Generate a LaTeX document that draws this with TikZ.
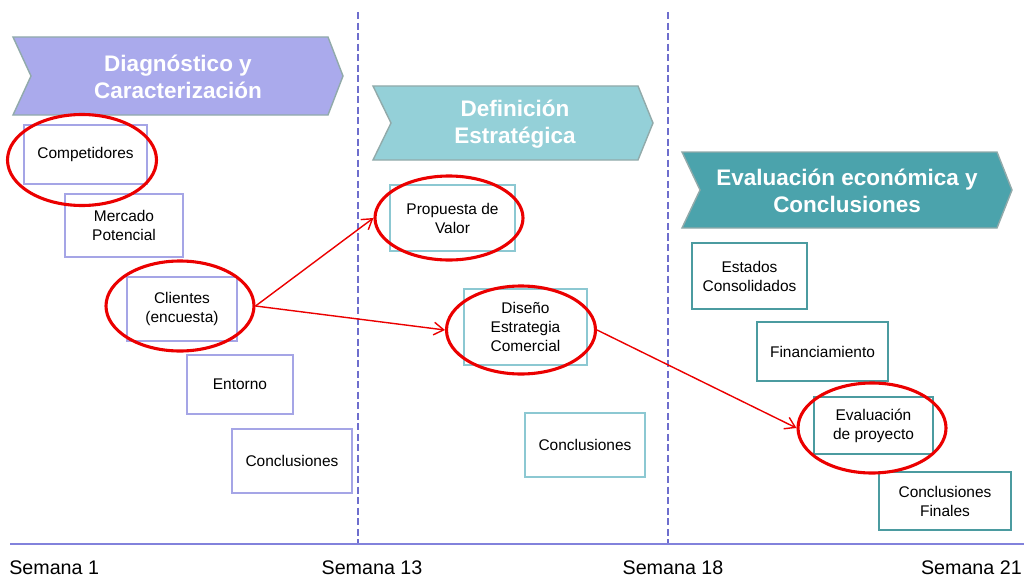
\documentclass[tikz,border=0pt]{standalone}
\usepackage{fontspec}
\setmainfont{Liberation Sans}
\usetikzlibrary{positioning,arrows.meta,shapes.geometric}
\definecolor{lav}{RGB}{170,170,236}
\definecolor{lavline}{RGB}{165,165,230}
\definecolor{aqua}{RGB}{148,208,216}
\definecolor{aqualine}{RGB}{140,200,210}
\definecolor{tealdark}{RGB}{75,163,172}
\definecolor{tealline}{RGB}{75,155,160}
\definecolor{chevedge}{RGB}{145,170,170}
\definecolor{sepblue}{RGB}{110,110,205}
\definecolor{axisblue}{RGB}{130,130,220}
\definecolor{circred}{RGB}{235,0,0}

\begin{document}
\begin{tikzpicture}[x=0.025cm,y=-0.025cm,
  box/.style={draw,line width=2pt,fill=white,align=center,inner sep=1pt,
    font=\fontsize{11}{13.5}\selectfont},
  bx/.style 2 args={minimum width=#1*0.025cm,minimum height=#2*0.025cm},
  hd/.style={align=center,text=white,font=\fontsize{16}{19}\selectfont\bfseries},
  ring/.style={ellipse,draw=circred,line width=2.2pt,inner sep=0pt},
  link/.style={circred,line width=1pt,-{Straight Barb[length=7pt,width=9pt]}},
  wk/.style={font=\fontsize{14}{16}\selectfont,inner sep=0pt}]
\useasboundingbox (0,0) rectangle (1024,578);
% phases
\foreach \xl/\xr/\yt/\yb/\c in {13/343/37/115/lav,373/653/86/160/aqua,682/1012/152/228/tealdark}
  \filldraw[fill=\c,draw=chevedge,line width=1pt] (\xl,\yt) -- ({\xr-15},\yt) -- (\xr,{(\yt+\yb)/2})
    -- ({\xr-15},\yb) -- (\xl,\yb) -- ({\xl+18},{(\yt+\yb)/2}) -- cycle;
\node[hd] (hdiag) at (178,77) {Diagnóstico y\\Caracterización};
\node[hd] (hdef) at (515,124) {Definición\\Estratégica};
\node[hd] (heval) at (847,191) {Evaluación económica y\\Conclusiones};
% time line
\foreach \x in {358,668}
  \draw[sepblue,line width=1.4pt,dash pattern=on 5pt off 2.5pt] (\x,12) -- (\x,544);
\draw[axisblue,line width=1pt] (10,544) -- (1024,544);
\node[wk,anchor=west] (w1) at (9,568) {Semana 1};
\node[wk] (w13) at (372,568) {Semana 13};
\node[wk] (w18) at (673,568) {Semana 18};
\node[wk,anchor=east] (w21) at (1022,568) {Semana 21};
% tasks
\node[box,draw=lavline,bx={123}{59}] (comp) at (85.5,154.5) {Competidores};
\node[box,draw=lavline,bx={118}{63}] (merc) at (124,225.5) {Mercado\\Potencial};
\node[box,draw=lavline,bx={110}{64}] (cli) at (182,309) {Clientes\\(encuesta)};
\node[box,draw=lavline,bx={106}{59}] (ent) at (240,384.5) {Entorno};
\node[box,draw=lavline,bx={120}{64}] (conA) at (292,461) {Conclusiones};
\node[box,draw=aqualine,bx={125}{66}] (prop) at (452.5,218) {Propuesta de\\Valor};
\node[box,draw=aqualine,bx={123}{76}] (dis) at (525.5,327) {Diseño\\Estrategia\\Comercial};
\node[box,draw=aqualine,bx={120}{64}] (conB) at (585,445) {Conclusiones};
\node[box,draw=tealline,bx={115}{66}] (est) at (749.5,276) {Estados\\Consolidados};
\node[box,draw=tealline,bx={131}{59}] (fin) at (822.5,351.5) {Financiamiento};
\node[box,draw=tealline,bx={119}{57}] (eva) at (873.5,425.5) {Evaluación\\de proyecto};
\node[box,draw=tealline,bx={132}{58}] (conF) at (945,501) {Conclusiones\\Finales};
% highlights
\node[ring,bx={149}{91}] (rcomp) at (82,160) {};
\node[ring,bx={148}{90}] (rcli) at (180,306) {};
\node[ring,bx={148}{84}] (rprop) at (449,218) {};
\node[ring,bx={149}{88}] (rdis) at (521,330) {};
\node[ring,bx={148}{90}] (reva) at (872,428) {};
\draw[link] (rcli.east) -- (rprop.west);
\draw[link] (rcli.east) -- (rdis.west);
\draw[link] (rdis.east) -- (reva.west);
\end{tikzpicture}
\end{document}
